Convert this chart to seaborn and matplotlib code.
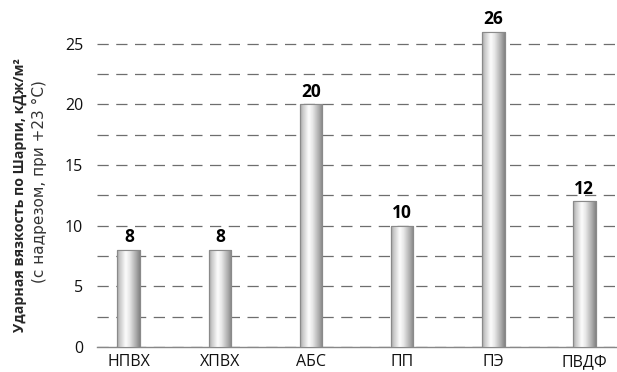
import matplotlib
matplotlib.use("Agg")
import matplotlib.pyplot as plt
import seaborn as sns
import numpy as np
import pandas as pd
from matplotlib.colors import LinearSegmentedColormap
from matplotlib.ticker import FixedLocator

# данные
materials = ["НПВХ", "ХПВХ", "АБС", "ПП", "ПЭ", "ПВДФ"]
impact = [8, 8, 20, 10, 26, 12]
major_ticks = [0, 5, 10, 15, 20, 25]
minor_ticks = [2.5, 7.5, 12.5, 17.5, 22.5]

df = pd.DataFrame({"material": materials, "impact": impact})

sns.set_style("white")
plt.rcParams["font.family"] = ["Open Sans", "DejaVu Sans"]

fig = plt.figure(figsize=(6.17, 3.72), dpi=100)
ax = fig.add_axes([97 / 617, 25 / 372, 520 / 617, 342 / 372])

sns.barplot(data=df, x="material", y="impact", color="#dddddd", width=0.25,
            edgecolor="#8a8a8a", linewidth=0.8, ax=ax, zorder=3)

ax.set_xlim(-0.35, 5.36)
ax.set_ylim(0, 28.2)

# градиент "цилиндр" на каждом столбике
cmap = LinearSegmentedColormap.from_list(
    "cyl", [(0.0, "#a0a0a0"), (0.12, "#c8c8c8"), (0.38, "#fcfcfc"),
            (0.55, "#e8e8e8"), (0.82, "#adadad"), (1.0, "#828282")])
grad = np.linspace(0, 1, 256).reshape(1, -1)
for p in ax.patches:
    x0, y0 = p.get_x(), p.get_y()
    w, h = p.get_width(), p.get_height()
    im = ax.imshow(grad, cmap=cmap, aspect="auto", extent=[x0, x0 + w, y0, y0 + h],
                   zorder=3.5, interpolation="bilinear")
    im.set_clip_path(p)
    ax.add_patch(plt.Rectangle((x0, y0), w, h, fill=False, edgecolor="#8a8a8a",
                               linewidth=0.8, zorder=4))

# подписи значений
for i, v in enumerate(impact):
    ax.text(i, v + 0.3, str(v), ha="center", va="bottom", fontsize=12.5,
            fontweight="bold", color="black", zorder=5)

# сетка
ax.yaxis.set_major_locator(FixedLocator(major_ticks))
ax.yaxis.set_minor_locator(FixedLocator(minor_ticks))
ax.grid(axis="y", which="both", linestyle=(0, (9, 6)), color="#6e6e6e", linewidth=0.9, zorder=0)
ax.set_axisbelow(True)

for s in ["top", "right", "left"]:
    ax.spines[s].set_visible(False)
ax.spines["bottom"].set_color("#888888")
ax.spines["bottom"].set_linewidth(1.0)

ax.tick_params(axis="both", which="both", length=0, labelsize=11.5, colors="#111111")
ax.tick_params(axis="y", pad=10)
ax.tick_params(axis="x", pad=5)
ax.set_xlabel("")
ax.set_ylabel("")

fig.text(0.032, 0.476, "Ударная вязкость по Шарпи, кДж/м²", rotation=90,
         ha="center", va="center", fontsize=10.2, fontweight="bold")
fig.text(0.064, 0.513, "(с надрезом, при +23 °С)", rotation=90,
         ha="center", va="center", fontsize=11, color="#333333",
         family=["DejaVu Sans"])

fig.savefig("out.png", dpi=100)
